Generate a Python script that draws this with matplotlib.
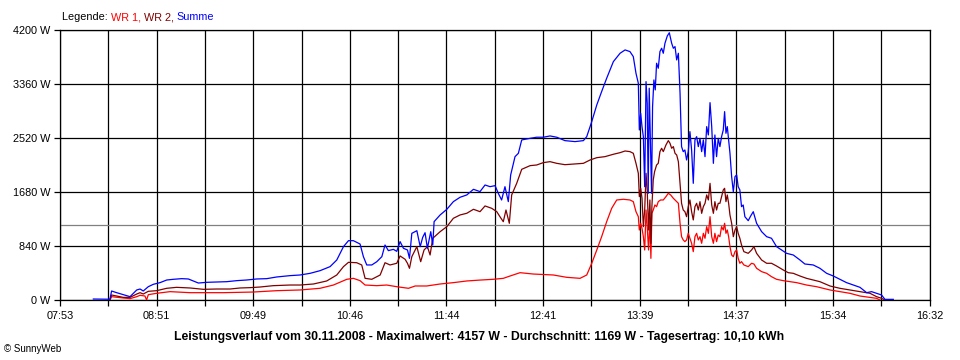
import matplotlib
matplotlib.use("Agg")
import matplotlib.pyplot as plt
import numpy as np

plt.rcParams["font.family"] = ["Liberation Sans", "DejaVu Sans"]

# time axis: minutes after midnight, 07:53 .. 16:32
T_START = 473
T_END = 992
TICK_LABELS = ["07:53", "08:51", "09:49", "10:46", "11:44", "12:41", "13:39", "14:37", "15:34", "16:32"]
Y_TICKS = [0, 840, 1680, 2520, 3360, 4200]

MAXIMUM = 4157
AVERAGE = 1169
DAILY_KWH = "10,10"

# WR 1 (red)
t_wr1 = [502.8, 503.8, 510.8, 514.8, 518.8, 520.8, 523.7, 524.7, 525.7, 530.7, 538.7, 550.6, 570.5,
         588.4, 602.3, 616.3, 628.2, 636.2, 644.2, 648.1, 652.1, 655.1, 662.1, 668.0, 674.0, 681.0,
         685.0, 691.9, 699.9, 707.8, 715.8, 723.7, 731.7, 737.6, 741.6, 747.6, 755.5, 767.5, 775.4,
         783.4, 787.4, 790.4, 793.4, 796.3, 799.3, 802.3, 805.3, 809.3, 813.2, 815.2, 816.8, 818.2,
         818.8, 819.6, 820.4, 821.2, 822.0, 822.8, 823.5, 824.3, 825.1, 825.7, 826.3, 827.1, 828.1,
         829.1, 830.1, 831.5, 833.1, 834.7, 836.1, 837.5, 839.1, 841.1, 842.1, 843.1, 844.0, 845.0,
         846.0, 847.0, 848.0, 849.0, 850.0, 851.0, 852.0, 853.0, 854.0, 855.0, 856.0, 857.0, 858.0,
         859.0, 860.0, 861.0, 862.0, 863.0, 863.9, 864.9, 865.9, 866.9, 867.9, 868.9, 869.7, 870.5,
         871.3, 872.1, 872.9, 873.9, 874.9, 875.9, 876.9, 877.8, 878.8, 879.8, 881.2, 883.8, 885.8,
         887.2, 888.8, 891.8, 894.8, 897.7, 900.7, 904.7, 908.7, 912.7, 918.6, 924.6, 932.6, 938.5,
         944.5, 950.5, 956.5, 960.4, 962.4]
p_wr1 = [0, 52, 31, 21, 52, 73, 62, 0, 83, 104, 130, 114, 114,
         124, 145, 156, 182, 233, 322, 337, 301, 233, 223, 233, 207, 182,
         218, 218, 249, 270, 296, 310, 322, 337, 373, 425, 404, 389, 353,
         337, 389, 571, 778, 985, 1218, 1426, 1556, 1567, 1556, 1530, 1374, 1296,
         1089, 1193, 1115, 985, 778, 1400, 1141, 778, 1245, 648, 1348, 1400, 1478,
         1452, 1530, 1556, 1556, 1608, 1660, 1634, 1582, 1530, 1504, 1193, 985, 934,
         908, 934, 1037, 960, 882, 752, 985, 1037, 934, 985, 882, 1037, 960,
         1141, 1037, 1296, 985, 882, 1037, 908, 1011, 985, 1141, 1089, 1193, 1037,
         1089, 985, 830, 700, 674, 752, 778, 648, 571, 597, 545, 519, 571,
         560, 493, 441, 415, 363, 322, 301, 285, 270, 233, 207, 156, 130,
         104, 62, 41, 26, 0]

# WR 2 (dark red)
t_wr2 = [502.8, 503.8, 506.8, 510.8, 514.8, 518.8, 520.8, 522.7, 525.7, 530.7, 536.7, 542.6, 550.6,
         558.6, 566.5, 574.5, 580.5, 586.4, 592.4, 600.3, 610.3, 616.3, 624.3, 632.2, 638.2, 642.2,
         645.2, 650.1, 653.1, 655.1, 659.1, 664.1, 667.0, 670.0, 674.0, 676.0, 679.0, 680.4, 681.6,
         683.0, 686.0, 688.3, 690.3, 692.3, 693.9, 695.5, 699.9, 703.9, 707.8, 711.8, 715.8, 719.8,
         723.7, 726.7, 730.7, 733.7, 735.6, 737.6, 739.2, 741.2, 742.6, 745.6, 748.6, 753.6, 757.5,
         761.5, 765.5, 769.5, 774.4, 780.4, 785.4, 789.4, 793.4, 798.3, 803.3, 807.3, 810.3, 813.2,
         815.2, 816.8, 818.2, 818.8, 819.6, 820.4, 821.2, 822.0, 822.8, 823.5, 824.3, 825.1, 825.7,
         826.3, 827.1, 827.9, 829.1, 830.1, 831.1, 832.1, 833.1, 834.7, 836.1, 837.1, 838.1, 839.1,
         840.1, 841.1, 842.1, 843.1, 844.0, 845.0, 846.0, 847.0, 848.0, 849.0, 850.0, 851.0, 852.0,
         853.0, 854.0, 855.0, 856.0, 857.0, 858.0, 859.0, 860.0, 861.0, 862.0, 863.0, 863.9, 864.9,
         865.9, 866.9, 867.9, 868.9, 869.7, 870.5, 871.3, 872.1, 872.9, 873.9, 874.9, 875.9, 876.9,
         877.8, 878.8, 879.8, 881.2, 883.8, 885.8, 887.2, 888.8, 891.8, 894.8, 897.7, 900.7, 904.7,
         907.7, 910.7, 914.7, 918.6, 922.6, 926.6, 932.6, 938.5, 944.5, 950.5, 956.5, 960.4, 963.4,
         965.4]
p_wr2 = [0, 78, 62, 41, 41, 93, 114, 93, 135, 145, 182, 197, 187,
         166, 171, 171, 187, 192, 202, 223, 233, 233, 249, 296, 389, 519,
         586, 580, 545, 337, 322, 389, 580, 545, 571, 685, 633, 571, 493,
         674, 830, 596, 778, 830, 700, 960, 1063, 1141, 1271, 1323, 1349, 1411,
         1374, 1463, 1426, 1374, 1296, 1218, 1400, 1193, 1634, 1815, 2033, 2090, 2100,
         2137, 2152, 2126, 2105, 2116, 2126, 2178, 2214, 2230, 2267, 2292, 2318, 2308,
         2282, 2126, 1971, 1608, 1737, 1582, 1141, 1400, 1971, 1712, 1089, 1556, 882,
         1452, 1867, 1996, 2100, 2126, 2308, 2360, 2308, 2412, 2479, 2438, 2360, 2386,
         2282, 2256, 2152, 1815, 1504, 1400, 1374, 1296, 1452, 1556, 1374, 1245, 1452,
         1504, 1400, 1530, 1348, 1452, 1504, 1634, 1556, 1815, 1478, 1348, 1530, 1400,
         1504, 1504, 1608, 1712, 1737, 1530, 1634, 1504, 1322, 1193, 985, 1089, 1141,
         1037, 960, 856, 752, 726, 778, 830, 726, 622, 571, 571, 529, 467,
         425, 415, 373, 337, 311, 285, 218, 182, 156, 130, 104, 52, 26,
         0]

# Summe (blue)
t_sum = [492.9, 502.8, 503.8, 506.8, 510.8, 514.8, 518.8, 520.8, 522.7, 525.7, 528.7, 532.7, 536.7,
         540.7, 545.6, 549.6, 552.6, 555.6, 560.6, 566.5, 572.5, 578.5, 584.4, 590.4, 596.4, 602.3,
         610.3, 616.3, 622.3, 628.2, 634.2, 638.2, 642.2, 645.2, 648.1, 652.1, 654.1, 656.1, 659.1,
         662.1, 665.1, 667.0, 669.0, 672.0, 674.0, 676.0, 678.0, 680.4, 681.6, 683.0, 686.0, 688.0,
         689.5, 690.9, 692.3, 694.3, 695.5, 696.3, 699.9, 703.9, 707.8, 711.8, 715.8, 719.8, 723.7,
         726.7, 729.7, 732.7, 734.6, 736.6, 738.6, 740.6, 742.0, 744.6, 746.6, 748.6, 753.6, 757.5,
         761.5, 765.5, 769.5, 774.4, 780.4, 785.4, 787.4, 790.4, 793.4, 796.3, 799.3, 803.3, 807.3,
         810.3, 813.2, 815.2, 816.8, 818.2, 818.8, 819.6, 820.4, 821.2, 822.0, 822.8, 823.5, 824.1,
         824.7, 825.5, 826.1, 826.7, 827.5, 828.3, 829.1, 830.1, 831.1, 832.1, 833.1, 834.1, 835.5,
         836.7, 838.1, 839.1, 840.1, 841.1, 842.1, 843.1, 844.0, 845.0, 846.0, 847.0, 848.0, 849.0,
         850.0, 851.0, 852.0, 853.0, 854.0, 855.0, 856.0, 857.0, 858.0, 859.0, 860.0, 861.0, 862.0,
         863.0, 863.9, 864.9, 865.9, 866.9, 867.9, 868.9, 869.7, 870.5, 871.3, 872.1, 872.9, 873.9,
         874.9, 875.9, 876.9, 877.8, 878.8, 879.8, 880.8, 881.8, 883.8, 885.2, 886.8, 888.8, 891.8,
         894.8, 897.7, 900.7, 903.7, 906.7, 910.7, 914.7, 917.6, 922.6, 926.6, 930.6, 934.6, 938.5,
         942.5, 946.5, 950.5, 954.5, 957.4, 960.4, 963.4, 965.4, 970.4]
p_sum = [15, 12, 140, 114, 83, 52, 156, 171, 140, 207, 244, 270, 311,
         322, 332, 327, 296, 264, 275, 280, 285, 301, 311, 327, 332, 358,
         379, 389, 415, 456, 519, 622, 830, 923, 923, 871, 674, 545, 545,
         596, 674, 856, 768, 788, 757, 908, 804, 778, 648, 1037, 1078, 830,
         975, 1047, 804, 1063, 856, 1219, 1323, 1411, 1530, 1598, 1634, 1722, 1686,
         1789, 1763, 1779, 1660, 1556, 1763, 1530, 1945, 2230, 2282, 2490, 2515, 2532,
         2532, 2552, 2532, 2479, 2464, 2479, 2541, 2775, 3034, 3242, 3449, 3708, 3838,
         3890, 3864, 3786, 3527, 3371, 2645, 2904, 2697, 2541, 1763, 3397, 3060, 1660,
         3294, 2386, 1660, 3008, 3423, 3268, 3683, 3605, 3864, 3916, 3838, 3994, 4108,
         4157, 3994, 3916, 3942, 3734, 3838, 3216, 2386, 2308, 2334, 2178, 2308, 2619,
         2334, 1815, 2490, 2541, 2386, 2515, 2308, 2490, 2230, 2697, 2567, 3070, 2697,
         2126, 2567, 2230, 2515, 2386, 2541, 2645, 2930, 2593, 2697, 2490, 2282, 1919,
         1685, 1919, 1945, 1763, 1712, 1452, 1478, 1296, 1234, 1304, 1374, 1193, 1063,
         985, 960, 830, 778, 726, 700, 622, 560, 545, 493, 415, 373, 322,
         270, 233, 197, 114, 130, 104, 78, 10, 10]


def main():
    fig = plt.figure(figsize=(9.6, 3.6), dpi=100)
    ax = fig.add_axes([60 / 960, 1 - 300 / 360, 869.5 / 960, 270 / 360])

    ax.plot(t_wr1, p_wr1, color="#ff0000", lw=0.9, zorder=3)
    ax.plot(t_wr2, p_wr2, color="#800000", lw=0.9, zorder=4)
    ax.plot(t_sum, p_sum, color="#0000ff", lw=0.9, zorder=5)
    ax.axhline(AVERAGE, color="#808080", lw=0.9, zorder=2)

    ax.set_xlim(T_START, T_END)
    ax.set_ylim(0, 4200)

    xticks = np.linspace(T_START, T_END, 2 * (len(TICK_LABELS) - 1) + 1)
    xlabels = []
    for i in range(len(xticks)):
        xlabels.append(TICK_LABELS[i // 2] if i % 2 == 0 else "")
    ax.set_xticks(xticks)
    ax.set_xticklabels(xlabels)
    ax.set_yticks(Y_TICKS)
    ax.set_yticklabels([f"{v} W" for v in Y_TICKS])

    ax.grid(True, color="black", lw=0.9, zorder=1)
    ax.set_axisbelow(True)
    ax.tick_params(direction="out", length=4, width=0.9, color="black",
                   labelsize=7.8, pad=3)
    ax.tick_params(axis="x", pad=4)
    for sp in ax.spines.values():
        sp.set_color("black")
        sp.set_linewidth(0.9)

    # legend line at the top, coloured words one after another
    fig.canvas.draw()
    renderer = fig.canvas.get_renderer()
    x = 62 / 960
    y = 1 - 17 / 360
    for word, col in [("Legende: ", "black"), ("WR 1, ", "#ff0000"),
                      ("WR 2, ", "#800000"), ("Summe", "#0000ff")]:
        txt = fig.text(x, y, word, color=col, fontsize=7.8, va="center", ha="left")
        bb = txt.get_window_extent(renderer)
        x += bb.width / fig.bbox.width

    title = (f"Leistungsverlauf vom 30.11.2008 - Maximalwert: {MAXIMUM} W - "
             f"Durchschnitt: {AVERAGE} W - Tagesertrag: {DAILY_KWH} kWh")
    fig.text(479 / 960, 1 - 337 / 360, title, ha="center", va="center",
             fontsize=8.8, fontweight="bold")
    fig.text(4 / 960, 1 - 349 / 360, "© SunnyWeb", ha="left", va="center", fontsize=7)

    fig.savefig("out.png", dpi=100)
    plt.close(fig)


if __name__ == "__main__":
    main()
